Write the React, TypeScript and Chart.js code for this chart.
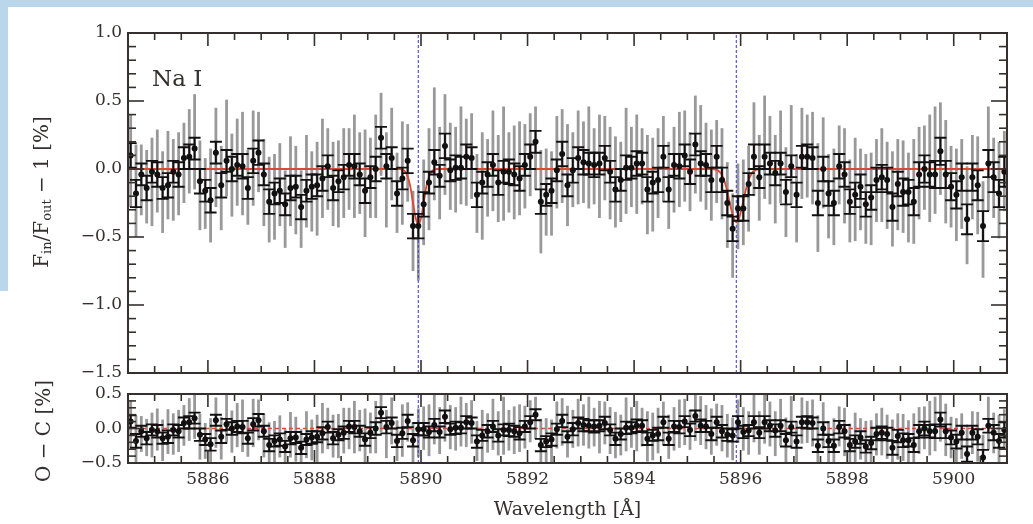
import React, { useEffect, useRef } from "react";
import { Chart, registerables } from "chart.js";

Chart.register(...registerables);

// ---------------- data ----------------
const wavelength = [
  5884.55, 5884.65, 5884.75, 5884.85, 5884.95, 5885.05, 5885.15, 5885.25, 5885.35, 5885.45,
  5885.55, 5885.65, 5885.75, 5885.85, 5885.95, 5886.05, 5886.15, 5886.25, 5886.35, 5886.45,
  5886.55, 5886.65, 5886.75, 5886.85, 5886.95, 5887.05, 5887.15, 5887.25, 5887.35, 5887.45,
  5887.55, 5887.65, 5887.75, 5887.85, 5887.95, 5888.05, 5888.15, 5888.25, 5888.35, 5888.45,
  5888.55, 5888.65, 5888.75, 5888.85, 5888.95, 5889.05, 5889.15, 5889.25, 5889.35, 5889.45,
  5889.55, 5889.65, 5889.75, 5889.85, 5889.95, 5890.05, 5890.15, 5890.25, 5890.35, 5890.45,
  5890.55, 5890.65, 5890.75, 5890.85, 5890.95, 5891.05, 5891.15, 5891.25, 5891.35, 5891.45,
  5891.55, 5891.65, 5891.75, 5891.85, 5891.95, 5892.05, 5892.15, 5892.25, 5892.35, 5892.45,
  5892.55, 5892.65, 5892.75, 5892.85, 5892.95, 5893.05, 5893.15, 5893.25, 5893.35, 5893.45,
  5893.55, 5893.65, 5893.75, 5893.85, 5893.95, 5894.05, 5894.15, 5894.25, 5894.35, 5894.45,
  5894.55, 5894.65, 5894.75, 5894.85, 5894.95, 5895.05, 5895.15, 5895.25, 5895.35, 5895.45,
  5895.55, 5895.65, 5895.75, 5895.85, 5895.95, 5896.05, 5896.15, 5896.25, 5896.35, 5896.45,
  5896.55, 5896.65, 5896.75, 5896.85, 5896.95, 5897.05, 5897.15, 5897.25, 5897.35, 5897.45,
  5897.55, 5897.65, 5897.75, 5897.85, 5897.95, 5898.05, 5898.15, 5898.25, 5898.35, 5898.45,
  5898.55, 5898.65, 5898.75, 5898.85, 5898.95, 5899.05, 5899.15, 5899.25, 5899.35, 5899.45,
  5899.55, 5899.65, 5899.75, 5899.85, 5899.95, 5900.05, 5900.15, 5900.25, 5900.35, 5900.45,
  5900.55, 5900.65, 5900.75, 5900.85, 5900.95,
];

// F_in/F_out - 1 [%], binned points
const fluxDiff = [
  0.10, -0.18, -0.04, -0.14, -0.02, -0.04, -0.14, -0.12, -0.02, -0.04,
  0.08, 0.09, 0.15, -0.09, -0.16, -0.23, 0.12, -0.12, 0.06, 0.00,
  0.03, 0.02, -0.14, 0.06, 0.12, -0.04, -0.24, -0.18, -0.16, -0.26,
  -0.14, -0.13, -0.28, -0.16, -0.13, -0.12, -0.07, 0.02, -0.14, -0.09,
  -0.06, 0.03, 0.02, -0.04, -0.16, -0.06, 0.00, 0.23, 0.02, 0.08,
  -0.18, -0.07, 0.06, -0.42, -0.42, -0.26, -0.10, 0.05, -0.05, 0.17,
  -0.01, 0.01, 0.01, 0.09, 0.08, -0.19, -0.10, -0.04, 0.03, -0.10,
  -0.02, -0.02, -0.04, -0.07, 0.03, 0.09, 0.20, -0.24, -0.19, -0.16,
  -0.01, 0.11, -0.12, -0.01, 0.08, 0.05, 0.04, 0.03, 0.04, 0.08,
  -0.02, -0.15, -0.08, 0.01, 0.01, 0.04, 0.04, -0.15, -0.10, -0.08,
  0.09, -0.15, 0.03, 0.02, 0.10, -0.02, 0.18, 0.04, 0.03, -0.08,
  0.09, -0.08, -0.25, -0.44, -0.29, -0.29, -0.11, 0.09, -0.06, 0.09,
  0.04, -0.03, 0.04, -0.17, 0.02, -0.19, 0.09, 0.09, 0.08, -0.25,
  0.00, -0.18, -0.25, 0.02, -0.04, -0.24, -0.19, -0.13, -0.26, -0.21,
  -0.08, -0.06, -0.08, -0.28, -0.11, -0.17, -0.17, -0.24, -0.04, 0.00,
  -0.04, -0.04, 0.13, -0.04, -0.13, -0.19, -0.06, -0.37, -0.06, -0.12,
  -0.42, 0.04, -0.06, -0.18, -0.02,
];

// 1-sigma errors of the binned points
const fluxErr = [
  0.09, 0.10, 0.08, 0.09, 0.08, 0.09, 0.08, 0.09, 0.08, 0.09,
  0.08, 0.09, 0.08, 0.09, 0.08, 0.09, 0.08, 0.09, 0.08, 0.09,
  0.08, 0.09, 0.08, 0.09, 0.09, 0.08, 0.09, 0.08, 0.09, 0.08,
  0.09, 0.08, 0.09, 0.08, 0.09, 0.08, 0.09, 0.08, 0.09, 0.08,
  0.09, 0.08, 0.09, 0.08, 0.09, 0.08, 0.09, 0.08, 0.09, 0.08,
  0.09, 0.08, 0.09, 0.09, 0.09, 0.09, 0.08, 0.09, 0.08, 0.09,
  0.08, 0.09, 0.08, 0.09, 0.08, 0.09, 0.08, 0.09, 0.08, 0.09,
  0.08, 0.09, 0.08, 0.09, 0.08, 0.09, 0.08, 0.09, 0.08, 0.09,
  0.08, 0.09, 0.08, 0.09, 0.08, 0.09, 0.08, 0.09, 0.08, 0.09,
  0.08, 0.09, 0.08, 0.09, 0.08, 0.09, 0.08, 0.09, 0.08, 0.09,
  0.08, 0.09, 0.08, 0.09, 0.08, 0.09, 0.08, 0.09, 0.08, 0.09,
  0.08, 0.09, 0.09, 0.09, 0.09, 0.09, 0.08, 0.09, 0.08, 0.09,
  0.08, 0.09, 0.08, 0.09, 0.08, 0.09, 0.08, 0.09, 0.08, 0.09,
  0.09, 0.09, 0.09, 0.09, 0.09, 0.09, 0.09, 0.09, 0.09, 0.09,
  0.09, 0.09, 0.09, 0.10, 0.09, 0.10, 0.09, 0.10, 0.09, 0.10,
  0.09, 0.10, 0.10, 0.10, 0.10, 0.10, 0.10, 0.11, 0.10, 0.11,
  0.11, 0.10, 0.11, 0.10, 0.11,
];

// grey (unbinned) uncertainty extent above / below each point
const grayUp = [
  0.30, 0.36, 0.22, 0.28, 0.25, 0.33, 0.27, 0.40, 0.24, 0.31,
  0.26, 0.35, 0.40, 0.30, 0.24, 0.38, 0.33, 0.29, 0.45, 0.26,
  0.34, 0.40, 0.28, 0.37, 0.30, 0.26, 0.33, 0.29, 0.35, 0.25,
  0.38, 0.30, 0.27, 0.41, 0.26, 0.32, 0.44, 0.28, 0.34, 0.30,
  0.36, 0.27, 0.38, 0.31, 0.45, 0.29, 0.40, 0.33, 0.25, 0.37,
  0.30, 0.42, 0.27, 0.26, 0.30, 0.33, 0.40, 0.55, 0.36, 0.38,
  0.35, 0.30, 0.45, 0.28, 0.33, 0.30, 0.37, 0.26, 0.40, 0.35,
  0.48, 0.29, 0.36, 0.42, 0.30, 0.32, 0.26, 0.38, 0.34, 0.29,
  0.40, 0.33, 0.45, 0.28, 0.35, 0.30, 0.42, 0.27, 0.36, 0.31,
  0.33, 0.39, 0.28, 0.44, 0.30, 0.36, 0.26, 0.40, 0.33, 0.38,
  0.30, 0.35, 0.28, 0.40, 0.33, 0.29, 0.36, 0.43, 0.31, 0.37,
  0.27, 0.38, 0.30, 0.26, 0.33, 0.36, 0.28, 0.40, 0.31, 0.45,
  0.35, 0.28, 0.39, 0.33, 0.45, 0.30, 0.36, 0.31, 0.34, 0.44,
  0.38, 0.29, 0.40, 0.30, 0.34, 0.31, 0.42, 0.28, 0.37, 0.33,
  0.30, 0.36, 0.28, 0.41, 0.33, 0.38, 0.29, 0.46, 0.35, 0.32,
  0.44, 0.50, 0.36, 0.40, 0.30, 0.34, 0.28, 0.39, 0.31, 0.36,
  0.33, 0.42, 0.29, 0.38, 0.30,
];
const grayDown = [
  0.38, 0.32, 0.30, 0.26, 0.40, 0.28, 0.33, 0.25, 0.36, 0.30,
  0.33, 0.27, 0.30, 0.36, 0.28, 0.31, 0.40, 0.33, 0.26, 0.35,
  0.30, 0.36, 0.27, 0.33, 0.29, 0.38, 0.30, 0.34, 0.26, 0.32,
  0.28, 0.35, 0.30, 0.27, 0.33, 0.37, 0.29, 0.32, 0.28, 0.34,
  0.30, 0.33, 0.38, 0.29, 0.34, 0.30, 0.36, 0.28, 0.45, 0.31,
  0.29, 0.34, 0.30, 0.33, 0.40, 0.30, 0.35, 0.28, 0.32, 0.36,
  0.29, 0.33, 0.27, 0.36, 0.30, 0.28, 0.42, 0.31, 0.34, 0.29,
  0.36, 0.30, 0.33, 0.27, 0.32, 0.29, 0.35, 0.38, 0.30, 0.33,
  0.28, 0.36, 0.30, 0.27, 0.34, 0.30, 0.33, 0.29, 0.40, 0.31,
  0.35, 0.28, 0.31, 0.34, 0.29, 0.37, 0.30, 0.33, 0.36, 0.28,
  0.33, 0.29, 0.35, 0.30, 0.34, 0.29, 0.36, 0.28, 0.33, 0.30,
  0.34, 0.29, 0.33, 0.36, 0.30, 0.27, 0.35, 0.29, 0.32, 0.31,
  0.30, 0.37, 0.29, 0.33, 0.28, 0.35, 0.31, 0.30, 0.34, 0.36,
  0.29, 0.33, 0.31, 0.28, 0.36, 0.30, 0.34, 0.32, 0.29, 0.35,
  0.31, 0.33, 0.36, 0.29, 0.34, 0.30, 0.37, 0.31, 0.33, 0.30,
  0.35, 0.29, 0.32, 0.36, 0.30, 0.34, 0.38, 0.33, 0.31, 0.36,
  0.38, 0.35, 0.30, 0.33, 0.29,
];

// O - C residuals [%]
const residual = [
  0.10, -0.18, -0.04, -0.14, -0.02, -0.04, -0.14, -0.12, -0.02, -0.04,
  0.08, 0.09, 0.15, -0.09, -0.16, -0.23, 0.12, -0.12, 0.06, 0.00,
  0.03, 0.02, -0.14, 0.06, 0.12, -0.04, -0.24, -0.18, -0.16, -0.26,
  -0.14, -0.13, -0.28, -0.16, -0.13, -0.12, -0.07, 0.02, -0.14, -0.09,
  -0.06, 0.03, 0.02, -0.04, -0.16, -0.06, 0.00, 0.23, 0.02, 0.08,
  -0.18, -0.07, 0.11, -0.17, -0.01, -0.01, -0.05, 0.05, -0.05, 0.17,
  -0.01, 0.01, 0.01, 0.09, 0.08, -0.19, -0.10, -0.04, 0.03, -0.10,
  -0.02, -0.02, -0.04, -0.07, 0.03, 0.09, 0.20, -0.24, -0.19, -0.16,
  -0.01, 0.11, -0.12, -0.01, 0.08, 0.05, 0.04, 0.03, 0.04, 0.08,
  -0.02, -0.15, -0.08, 0.01, 0.01, 0.04, 0.04, -0.15, -0.10, -0.08,
  0.09, -0.15, 0.03, 0.02, 0.10, -0.02, 0.18, 0.04, 0.03, -0.08,
  0.09, -0.04, -0.09, -0.10, 0.09, -0.05, -0.03, 0.09, -0.06, 0.09,
  0.04, -0.03, 0.04, -0.17, 0.02, -0.19, 0.09, 0.09, 0.08, -0.25,
  0.00, -0.18, -0.25, 0.02, -0.04, -0.24, -0.19, -0.13, -0.26, -0.21,
  -0.08, -0.06, -0.08, -0.28, -0.11, -0.17, -0.17, -0.24, -0.04, 0.00,
  -0.04, -0.04, 0.13, -0.04, -0.13, -0.19, -0.06, -0.37, -0.06, -0.12,
  -0.42, 0.04, -0.06, -0.18, -0.02,
];

// best-fit model (red curve)
const modelWave = [
  5884.5, 5889.6, 5889.65, 5889.7, 5889.75, 5889.8, 5889.85, 5889.9, 5889.95, 5890.0,
  5890.05, 5890.1, 5890.15, 5890.2, 5890.25, 5890.3, 5895.47, 5895.52, 5895.57, 5895.62,
  5895.67, 5895.72, 5895.77, 5895.82, 5895.87, 5895.92, 5895.97, 5896.02, 5896.07, 5896.12,
  5896.17, 5896.22, 5896.27, 5896.32, 5896.37, 5901.0,
];
const modelFlux = [
  0.0, 0.0, -0.005, -0.018, -0.055, -0.13, -0.25, -0.36, -0.41, -0.36,
  -0.25, -0.13, -0.055, -0.018, -0.005, 0.0, 0.0, -0.004, -0.01, -0.027,
  -0.061, -0.12, -0.20, -0.29, -0.362, -0.39, -0.362, -0.29, -0.20, -0.12,
  -0.061, -0.027, -0.01, -0.004, 0.0, 0.0,
];

const naLines = [5889.95, 5895.92];
const xMajorTicks = [5886, 5888, 5890, 5892, 5894, 5896, 5898, 5900];
const topYTicks = [-1.5, -1.0, -0.5, 0.0, 0.5, 1.0];
const botYTicks = [-0.5, 0.0, 0.5];

const X_MIN = 5884.5;
const X_MAX = 5901.0;
const SERIF = '"DejaVu Serif", "Liberation Serif", serif';
const INK = "#352f2f";

// ---------------- helpers ----------------
function fmt(v: number) {
  return (v < 0 ? "\u2212" : "") + Math.abs(v).toFixed(1);
}

function drawRich(ctx: CanvasRenderingContext2D, parts: any[], cx: number, cy: number) {
  ctx.save();
  ctx.translate(cx, cy);
  ctx.rotate(-Math.PI / 2);
  ctx.fillStyle = INK;
  ctx.textBaseline = "middle";
  ctx.textAlign = "left";
  let total = 0;
  const widths: number[] = [];
  for (const p of parts) {
    ctx.font = `${p.size}px ${SERIF}`;
    const w = ctx.measureText(p.t).width;
    widths.push(w);
    total += w;
  }
  let x = -total / 2;
  parts.forEach((p, i) => {
    ctx.font = `${p.size}px ${SERIF}`;
    ctx.fillText(p.t, x, p.dy || 0);
    x += widths[i];
  });
  ctx.restore();
}

const panelPlugin = {
  id: "panel",
  beforeDatasetsDraw(chart: any, _a: any, o: any) {
    const { ctx, chartArea: a } = chart;
    const xs = chart.scales.x;
    const ys = chart.scales.y;
    ctx.save();
    ctx.beginPath();
    ctx.rect(a.left, a.top, a.right - a.left, a.bottom - a.top);
    ctx.clip();
    ctx.strokeStyle = "rgba(85,85,85,0.6)";
    ctx.lineWidth = 2.8;
    for (let i = 0; i < o.x.length; i++) {
      const px = xs.getPixelForValue(o.x[i]);
      ctx.beginPath();
      ctx.moveTo(px, ys.getPixelForValue(o.y[i] + o.up[i]));
      ctx.lineTo(px, ys.getPixelForValue(o.y[i] - o.down[i]));
      ctx.stroke();
    }
    ctx.restore();
  },
  afterDatasetsDraw(chart: any, _a: any, o: any) {
    const { ctx, chartArea: a } = chart;
    const xs = chart.scales.x;
    const ys = chart.scales.y;
    ctx.save();
    ctx.beginPath();
    ctx.rect(a.left, a.top, a.right - a.left, a.bottom - a.top);
    ctx.clip();
    ctx.strokeStyle = "#121010";
    ctx.lineWidth = 1.9;
    const cap = 6;
    for (let i = 0; i < o.x.length; i++) {
      const px = xs.getPixelForValue(o.x[i]);
      const pt = ys.getPixelForValue(o.y[i] + o.err[i]);
      const pb = ys.getPixelForValue(o.y[i] - o.err[i]);
      ctx.beginPath();
      ctx.moveTo(px, pt);
      ctx.lineTo(px, pb);
      ctx.moveTo(px - cap, pt);
      ctx.lineTo(px + cap, pt);
      ctx.moveTo(px - cap, pb);
      ctx.lineTo(px + cap, pb);
      ctx.stroke();
    }
    ctx.restore();
  },
  afterDraw(chart: any, _a: any, o: any) {
    const { ctx, chartArea: a } = chart;
    const xs = chart.scales.x;
    const ys = chart.scales.y;
    ctx.save();
    ctx.strokeStyle = INK;
    ctx.lineWidth = 1.6;
    const line = (x1: number, y1: number, x2: number, y2: number) => {
      ctx.beginPath();
      ctx.moveTo(x1, y1);
      ctx.lineTo(x2, y2);
      ctx.stroke();
    };
    // x ticks (inward, top & bottom)
    for (let v = X_MIN; v <= X_MAX + 1e-9; v += 0.5) {
      if (Math.abs(v - X_MIN) < 1e-6 || Math.abs(v - X_MAX) < 1e-6) continue;
      const major = xMajorTicks.some((t) => Math.abs(t - v) < 1e-6);
      const len = major ? 13 : 7;
      const px = xs.getPixelForValue(v);
      line(px, a.bottom, px, a.bottom - len);
      line(px, a.top, px, a.top + len);
    }
    // y ticks (inward, left & right)
    const yMin = ys.min;
    const yMax = ys.max;
    const n = Math.round((yMax - yMin) / 0.1);
    for (let i = 1; i < n; i++) {
      const v = yMin + i * 0.1;
      const major = o.yMajor.some((t: number) => Math.abs(t - v) < 1e-6);
      const len = major ? 16 : 8;
      const py = ys.getPixelForValue(v);
      line(a.left, py, a.left + len, py);
      line(a.right, py, a.right - len, py);
    }
    // frame
    ctx.lineWidth = 2;
    ctx.strokeRect(a.left, a.top, a.right - a.left, a.bottom - a.top);
    ctx.restore();

    if (o.label) {
      ctx.save();
      ctx.fillStyle = INK;
      ctx.font = `23px ${SERIF}`;
      ctx.textBaseline = "alphabetic";
      ctx.fillText(o.label, 152, 86);
      ctx.restore();
    }
    if (o.title) drawRich(ctx, o.title, o.titleX, o.titleY);
  },
};

Chart.register(panelPlugin);

function baseScales(yMin: number, yMax: number, yTicks: number[], showX: boolean, xHeight: number) {
  return {
    x: {
      type: "linear",
      min: X_MIN,
      max: X_MAX,
      display: showX,
      grid: { display: false, drawTicks: false },
      border: { display: false },
      ticks: {
        stepSize: 2,
        includeBounds: false,
        padding: 6,
        color: INK,
        font: { family: SERIF, size: 17 },
        callback: (v: any) => String(v),
        maxRotation: 0,
      },
      title: {
        display: showX,
        text: "Wavelength [\u00c5]",
        color: INK,
        font: { family: SERIF, size: 19 },
        padding: { top: 0, bottom: 3 },
      },
      afterFit: (s: any) => {
        if (showX) s.height = xHeight;
      },
    },
    y: {
      type: "linear",
      min: yMin,
      max: yMax,
      grid: { display: false, drawTicks: false },
      border: { display: false },
      afterBuildTicks: (s: any) => {
        s.ticks = yTicks.map((v) => ({ value: v }));
      },
      ticks: {
        padding: 6,
        color: INK,
        font: { family: SERIF, size: 17 },
        callback: (v: any) => fmt(Number(v)),
      },
      afterFit: (s: any) => {
        s.width = 128;
      },
    },
  };
}

const TOP_H = 395; // height of the upper canvas
const BOT_TOP = 370; // page y of the lower canvas

export default function App() {
  const topRef = useRef<HTMLCanvasElement>(null);
  const botRef = useRef<HTMLCanvasElement>(null);

  useEffect(() => {
    const pts = wavelength.map((x, i) => ({ x, y: fluxDiff[i] }));
    const res = wavelength.map((x, i) => ({ x, y: residual[i] }));
    const model = modelWave.map((x, i) => ({ x, y: modelFlux[i] }));

    const vline = (x: number, y0: number, y1: number, order: number) => ({
      type: "line",
      data: [
        { x, y: y0 },
        { x, y: y1 },
      ],
      borderColor: "rgba(70,70,215,0.85)",
      borderWidth: 1.3,
      borderDash: [3, 2],
      pointRadius: 0,
      order,
    });

    const common = {
      responsive: false,
      animation: false,
      devicePixelRatio: 1,
      events: [],
    };

    const top = new Chart(topRef.current!, {
      type: "scatter",
      data: {
        datasets: [
          {
            data: pts,
            pointRadius: 3,
            backgroundColor: "#111",
            borderWidth: 0,
            order: 0,
          } as any,
          {
            type: "line",
            data: model,
            borderColor: "rgb(222,72,52)",
            borderWidth: 1.8,
            pointRadius: 0,
            cubicInterpolationMode: "monotone",
            order: 1,
          } as any,
          vline(naLines[0], -1.5, 1.0, 2) as any,
          vline(naLines[1], -1.5, 1.0, 2) as any,
        ],
      },
      options: {
        ...common,
        layout: { padding: { top: 33, right: 26, bottom: TOP_H - 373, left: 0 } },
        scales: baseScales(-1.5, 1.0, topYTicks, false, 0) as any,
        plugins: {
          legend: { display: false },
          tooltip: { enabled: false },
          panel: {
            x: wavelength,
            y: fluxDiff,
            err: fluxErr,
            up: grayUp,
            down: grayDown,
            yMajor: topYTicks,
            label: "Na I",
            title: [
              { t: "F", size: 20 },
              { t: "in", size: 13, dy: 5 },
              { t: "/F", size: 20 },
              { t: "out", size: 13, dy: 5 },
              { t: " \u2212 1 [%]", size: 20 },
            ],
            titleX: 43,
            titleY: 192,
          },
        } as any,
      },
    } as any);

    const bot = new Chart(botRef.current!, {
      type: "scatter",
      data: {
        datasets: [
          {
            data: res,
            pointRadius: 3,
            backgroundColor: "#111",
            borderWidth: 0,
            order: 0,
          } as any,
          {
            type: "line",
            data: [
              { x: X_MIN, y: 0 },
              { x: X_MAX, y: 0 },
            ],
            borderColor: "rgb(222,72,52)",
            borderWidth: 1.3,
            borderDash: [4, 3],
            pointRadius: 0,
            order: 1,
          } as any,
          vline(naLines[0], -0.5, 0.5, 2) as any,
          vline(naLines[1], -0.5, 0.5, 2) as any,
        ],
      },
      options: {
        ...common,
        layout: { padding: { top: 394 - BOT_TOP, right: 26, bottom: 0, left: 0 } },
        scales: baseScales(-0.5, 0.5, botYTicks, true, 524 - 463) as any,
        plugins: {
          legend: { display: false },
          tooltip: { enabled: false },
          panel: {
            x: wavelength,
            y: residual,
            err: fluxErr,
            up: grayUp,
            down: grayDown,
            yMajor: botYTicks,
            title: [{ t: "O \u2212 C [%]", size: 20 }],
            titleX: 45,
            titleY: 431 - BOT_TOP,
          },
        } as any,
      },
    } as any);

    return () => {
      top.destroy();
      bot.destroy();
    };
  }, []);

  return (
    <div style={{ position: "absolute", left: 0, top: 0, width: 1033, height: 524, background: "#fff", overflow: "hidden" }}>
      <div style={{ position: "absolute", left: 0, top: 0, width: 1033, height: 7, background: "#b9d6ea" }} />
      <div style={{ position: "absolute", left: 0, top: 0, width: 8, height: 291, background: "#b9d6ea" }} />
      <canvas ref={topRef} width={1033} height={TOP_H} style={{ position: "absolute", left: 0, top: 0 }} />
      <canvas ref={botRef} width={1033} height={524 - BOT_TOP} style={{ position: "absolute", left: 0, top: BOT_TOP }} />
    </div>
  );
}
